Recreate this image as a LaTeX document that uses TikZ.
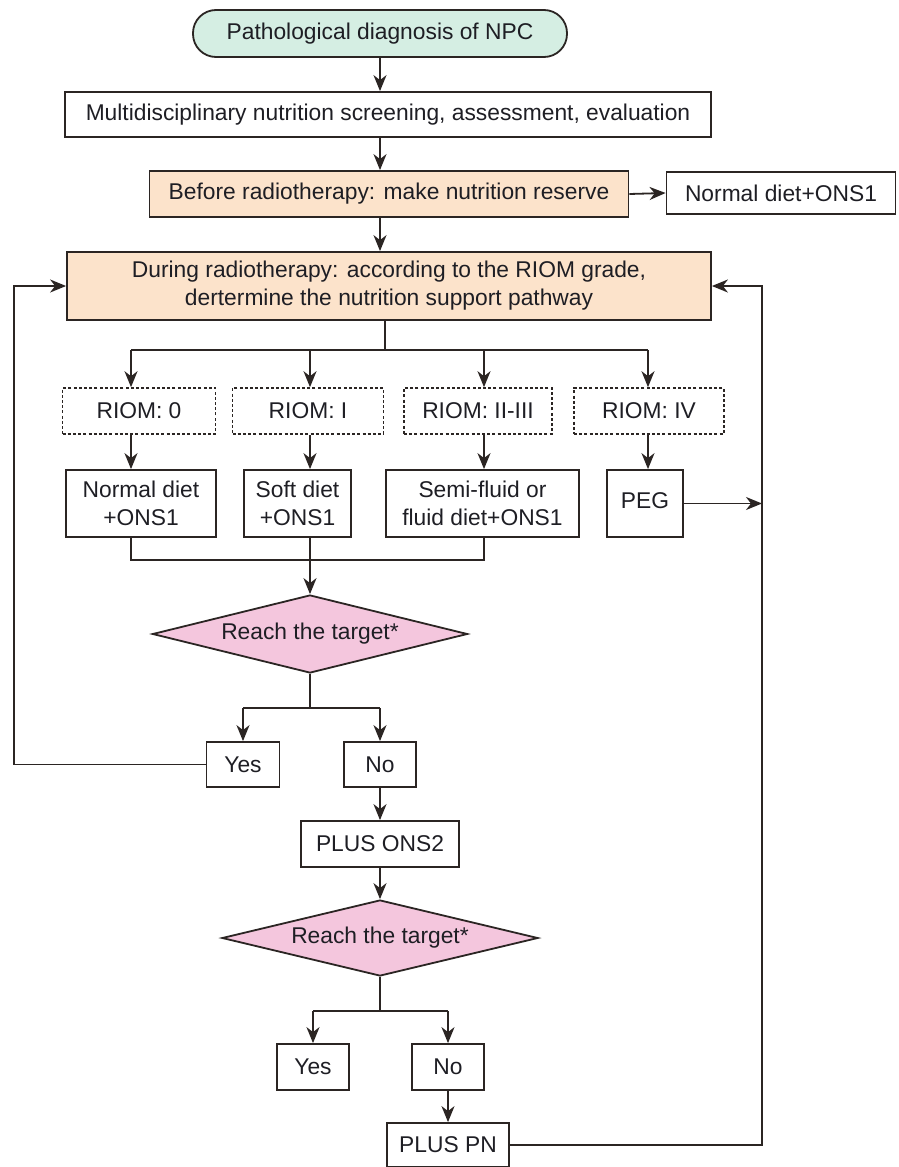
\documentclass[tikz,border=0pt]{standalone}
\usepackage{fontspec}
\setmainfont{Liberation Sans}
\usetikzlibrary{shapes.geometric,arrows.meta}
\definecolor{ln}{HTML}{2B2523}
\definecolor{txt}{HTML}{1E1E24}
\definecolor{mint}{HTML}{D5EEE3}
\definecolor{peach}{HTML}{FCE3CB}
\definecolor{pinkf}{HTML}{F4C6DD}
\begin{document}
\begin{tikzpicture}[x=1pt,y=-1pt,
  every node/.style={font=\fontsize{22.8}{28}\selectfont, text=txt, align=center, inner sep=0pt},
  sz/.style n args={2}{minimum width=#1pt, minimum height=#2pt},
  box/.style={draw=ln, line width=1.8pt, rectangle},
  dbox/.style={box, line width=1.6pt, dash pattern=on 3pt off 2.2pt},
  dia/.style={draw=ln, line width=1.8pt, diamond, aspect=4, fill=pinkf},
  conn/.style={draw=ln, line width=1.8pt},
  arr/.style={conn, -{Stealth[length=16pt,width=13pt,inset=5pt]}}]
\useasboundingbox (0,0) rectangle (898,1167);
\clip (0,0) rectangle (898,1167);

% nodes
\node[box, fill=mint, rounded corners=23pt, sz={374}{47}] (start) at (380,33.5) {Pathological diagnosis of NPC};
\node[box, sz={646}{45}] (multi) at (388,114.5) {Multidisciplinary nutrition screening, assessment, evaluation};
\node[box, fill=peach, sz={479}{46}] (before) at (389,194) {Before radiotherapy: make nutrition reserve};
\node[box, sz={229}{42}] (nd) at (781,193) {Normal diet+ONS1};
\node[box, fill=peach, sz={644}{68}] (during) at (389,286) {During radiotherapy: according to the RIOM grade,\\ dertermine the nutrition support pathway};

\node[dbox, sz={153}{46}] (r0) at (139,411) {RIOM: 0};
\node[dbox, sz={151}{46}] (r1) at (308,411) {RIOM: I};
\node[dbox, sz={148}{46}] (r2) at (478,411) {RIOM: II-III};
\node[dbox, sz={150}{46}] (r3) at (649,411) {RIOM: IV};

\node[box, sz={150}{67}] (d0) at (141,503.5) {Normal diet\\ +ONS1};
\node[box, sz={107}{67}] (d1) at (297.5,503.5) {Soft diet\\ +ONS1};
\node[box, sz={193}{67}] (d2) at (482.5,503.5) {Semi-fluid or\\ fluid diet+ONS1};
\node[box, sz={76}{67}] (d3) at (645,503.5) {\raisebox{5pt}{PEG}};

\node[dia, sz={315}{78}] (dia1) at (310,634) {Reach the target*};
\node[box, sz={73}{45}] (yes1) at (243,764.5) {Yes};
\node[box, sz={72}{45}] (no1) at (380,764.5) {No};
\node[box, sz={158}{46}] (ons2) at (380,844) {PLUS ONS2};
\node[dia, sz={316}{76}] (dia2) at (380,938) {Reach the target*};
\node[box, sz={72}{46}] (yes2) at (313,1067) {Yes};
\node[box, sz={72}{46}] (no2) at (448,1067) {No};
\node[box, sz={122}{44}] (pn) at (448,1145) {PLUS PN};

% coordinates
\coordinate (bj) at (385,350);
\coordinate (c0) at (131,350);
\coordinate (c1) at (310,350);
\coordinate (c2) at (484,350);
\coordinate (c3) at (648,350);
\coordinate (m0) at (131,560);
\coordinate (m1) at (310,560);
\coordinate (m2) at (484,560);
\coordinate (s1) at (310,708);
\coordinate (s1a) at (243,708);
\coordinate (s1b) at (380,708);
\coordinate (s2) at (380,1011);
\coordinate (s2a) at (313,1011);
\coordinate (s2b) at (448,1011);
\coordinate (ll) at (14,764.5);
\coordinate (rr) at (762,1145);

% connectors
\draw[arr] (start.south) -- (start.south |- multi.north);
\draw[arr] (start.south |- multi.south) -- (start.south |- before.north);
\draw[arr] (before.east) -- (nd.west);
\draw[arr] (start.south |- before.south) -- (start.south |- during.north);

\draw[conn] (bj |- during.south) -- (bj);
\draw[conn] (c0) -- (c3);
\draw[arr] (c0) -- (c0 |- r0.north);
\draw[arr] (c1) -- (c1 |- r1.north);
\draw[arr] (c2) -- (c2 |- r2.north);
\draw[arr] (c3) -- (c3 |- r3.north);
\draw[arr] (c0 |- r0.south) -- (c0 |- d0.north);
\draw[arr] (c1 |- r1.south) -- (c1 |- d1.north);
\draw[arr] (c2 |- r2.south) -- (c2 |- d2.north);
\draw[arr] (c3 |- r3.south) -- (c3 |- d3.north);

\draw[conn] (c0 |- d0.south) -- (m0) -- (m2) -- (c2 |- d2.south);
\draw[conn] (c1 |- d1.south) -- (m1);
\draw[arr] (m1) -- (dia1.north);
\draw[arr] (d3.east) -- (d3.east -| rr);

\draw[conn] (dia1.south) -- (s1);
\draw[conn] (s1a) -- (s1b);
\draw[arr] (s1a) -- (yes1.north);
\draw[arr] (s1b) -- (no1.north);
\draw[arr] (no1.south) -- (ons2.north);
\draw[arr] (ons2.south) -- (dia2.north);
\draw[conn] (dia2.south) -- (s2);
\draw[conn] (s2a) -- (s2b);
\draw[arr] (s2a) -- (yes2.north);
\draw[arr] (s2b) -- (no2.north);
\draw[arr] (no2.south) -- (pn.north);

\draw[arr] (yes1.west) -- (ll) |- (during.west);
\draw[arr] (pn.east) -- (rr) |- (during.east);
\end{tikzpicture}
\end{document}
